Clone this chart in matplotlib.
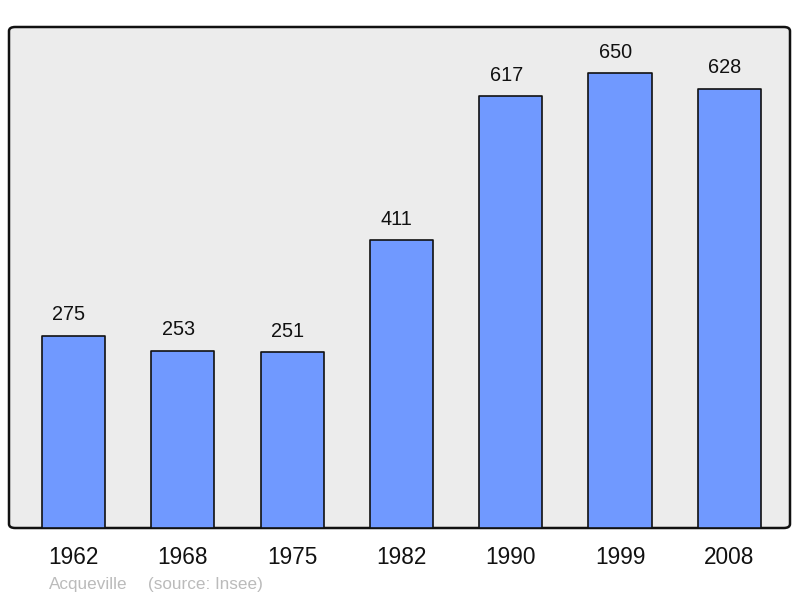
import matplotlib
matplotlib.use("Agg")
import matplotlib.pyplot as plt
import matplotlib.transforms as mtransforms
from matplotlib.patches import FancyBboxPatch

years = ["1962", "1968", "1975", "1982", "1990", "1999", "2008"]
population = [275, 253, 251, 411, 617, 650, 628]
place = "Acqueville"
source = "(source: Insee)"

plt.rcParams['font.family'] = ['Liberation Sans', 'DejaVu Sans']

fig = plt.figure(figsize=(8.0, 5.98), dpi=100)
ax = fig.add_axes([9/800, 70/598, 781/800, 501/598])
ax.set_facecolor('none')

# rounded frame
frame = FancyBboxPatch((0, 0), 1, 1, boxstyle="round,pad=0,rounding_size=0.008",
                       transform=ax.transAxes, facecolor='#ececec', edgecolor='#111111',
                       linewidth=1.8, zorder=0, clip_on=False)
ax.add_patch(frame)

x = list(range(len(years)))
bars = ax.bar(x, population, width=0.578, color='#7099ff', edgecolor='#111111',
              linewidth=1.2, zorder=2)
for b in bars:
    b.set_joinstyle('round')

shift = mtransforms.offset_copy(ax.transData, fig=fig, x=-4.5, y=0, units='dots')
for xi, v in zip(x, population):
    ax.text(xi, v + 30, str(v), ha='center', va='center', fontsize=14.3,
            color='#111111', zorder=3, transform=shift)

ax.set_xlim(-0.59, 6.555)
ax.set_ylim(0, 716)
for s in ax.spines.values():
    s.set_visible(False)
ax.set_yticks([])
ax.set_xticks(x)
ax.set_xticklabels(years, fontsize=16.3, color='#111111')
ax.tick_params(axis='x', length=0, pad=13)

fig.text(49/800, 1 - 584/598, place, fontsize=12.3, color='#bbbbbb', ha='left', va='center')
fig.text(148/800, 1 - 584/598, source, fontsize=12.3, color='#bbbbbb', ha='left', va='center')

fig.savefig("out.png", dpi=100)
